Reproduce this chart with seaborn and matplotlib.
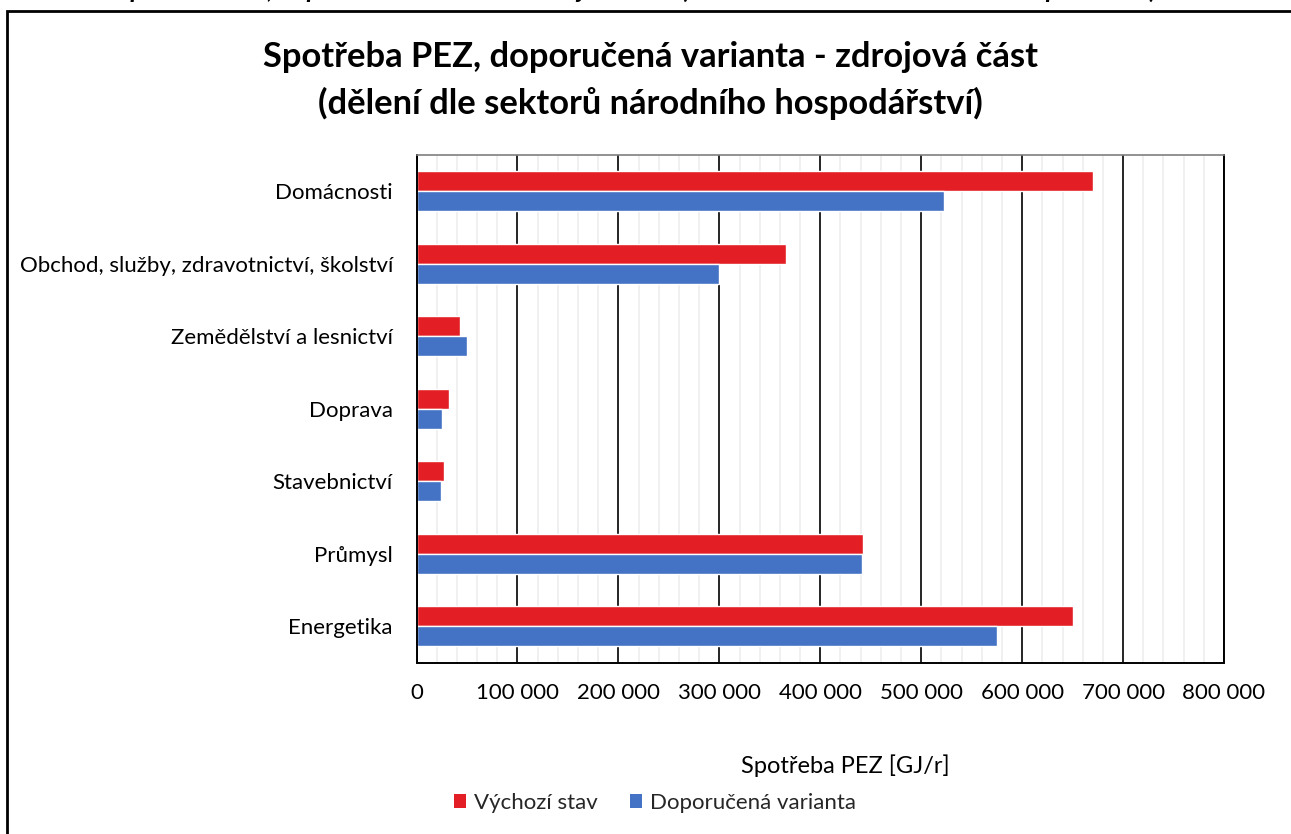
import matplotlib
matplotlib.use("Agg")
import matplotlib.pyplot as plt
import seaborn as sns
import pandas as pd
from matplotlib.ticker import MultipleLocator, FuncFormatter
from matplotlib.patches import Rectangle, Patch

# Data: primary energy consumption by sector [GJ/r]
sectors = [
    "Domácnosti",
    "Obchod, služby, zdravotnictví, školství",
    "Zemědělství a lesnictví",
    "Doprava",
    "Stavebnictví",
    "Průmysl",
    "Energetika",
]
vychozi_stav = [670000, 366000, 43000, 32000, 27000, 442000, 650000]
doporucena_varianta = [523000, 300000, 50000, 25000, 24000, 441000, 575000]
series_names = ["Výchozí stav", "Doporučená varianta"]
series_colors = ["#E31E24", "#4472C4"]

title_lines = [
    "Spotřeba PEZ, doporučená varianta - zdrojová část",
    "(dělení dle sektorů národního hospodářství)",
]
caption = "Spotřeba PEZ, doporučená varianta - zdrojová část (dělení dle sektorů národního hospodářství)"
x_label = "Spotřeba PEZ [GJ/r]"

df = pd.DataFrame({
    "Sektor": sectors * 2,
    "Varianta": [series_names[0]] * len(sectors) + [series_names[1]] * len(sectors),
    "Hodnota": vychozi_stav + doporucena_varianta,
})

sns.set_theme(style="white")
plt.rcParams["font.family"] = ["Lato", "DejaVu Sans"]

W, H = 1291, 834
fig = plt.figure(figsize=(W / 100, H / 100), dpi=100)
fig.patch.set_facecolor("white")

ax_left, ax_right, ax_top, ax_bottom = 416.5, 1224, 155, 662.5
ax = fig.add_axes([ax_left / W, 1 - ax_bottom / H, (ax_right - ax_left) / W, (ax_bottom - ax_top) / H])

sns.barplot(
    data=df, y="Sektor", x="Hodnota", hue="Varianta",
    palette=series_colors, orient="h", width=0.55, saturation=1,
    legend=False, ax=ax, errorbar=None,
)

ax.set_xlim(0, 800000)
ax.xaxis.set_major_locator(MultipleLocator(100000))
ax.xaxis.set_minor_locator(MultipleLocator(20000))
ax.xaxis.set_major_formatter(FuncFormatter(lambda v, p: f"{int(round(v)):,}".replace(",", " ")))
ax.set_axisbelow(True)
ax.grid(which="major", axis="x", color="black", lw=1.2)
ax.grid(which="minor", axis="x", color="#EDEDED", lw=1.2)
ax.grid(which="both", axis="y", visible=False)

ax.tick_params(axis="both", which="both", length=0, labelsize=16, colors="black")
ax.tick_params(axis="y", pad=17)
ax.tick_params(axis="x", pad=15)
ax.set_xlabel("")
ax.set_ylabel("")

for side in ["left", "right", "bottom"]:
    ax.spines[side].set_color("black")
    ax.spines[side].set_linewidth(1.4)
ax.spines["top"].set_color("#7F7F7F")
ax.spines["top"].set_linewidth(1.2)

# Title
fig.text(650 / W, 1 - 57 / H, title_lines[0], ha="center", va="center",
         fontsize=24.8, fontweight="bold", color="black")
fig.text(650 / W, 1 - 103 / H, title_lines[1], ha="center", va="center",
         fontsize=24.8, fontweight="bold", color="black")

# Axis label
fig.text(845 / W, 1 - 766 / H, x_label, ha="center", va="center", fontsize=17, color="black")

# Legend
handles = [Patch(facecolor=c, edgecolor="none", label=n) for c, n in zip(series_colors, series_names)]
fig.legend(handles=handles, loc="center", bbox_to_anchor=(655 / W, 1 - 803 / H), ncol=2,
           frameon=False, fontsize=16, handlelength=0.56, handleheight=0.56,
           handletextpad=0.35, columnspacing=1.45)

# Chart area frame
fig.add_artist(Rectangle((7 / W, -0.1), 1.2, (1 - 10.5 / H) + 0.1, transform=fig.transFigure,
                         fill=False, edgecolor="black", linewidth=2.0))

# Caption line sitting above the chart frame
fig.text(117 / W, 1 + 2 / H, caption, ha="left", va="baseline", fontsize=18.8,
         fontweight="bold", fontstyle="italic", color="black")

fig.savefig("out.png", dpi=100)
